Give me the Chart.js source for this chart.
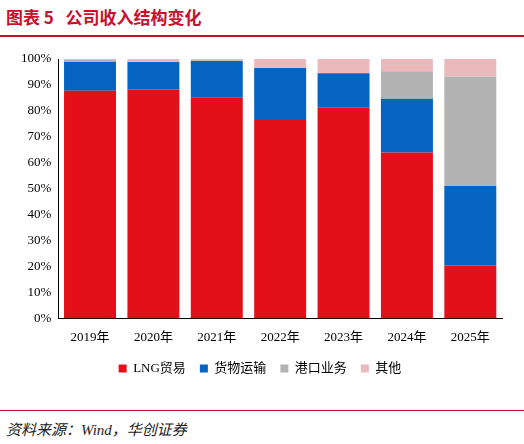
<!DOCTYPE html>
<html><head><meta charset="utf-8">
<script src="https://cdn.jsdelivr.net/npm/chart.js@4"></script>
<style>
body{margin:0;width:524px;height:444px;background:#fff;position:relative;overflow:hidden;font-family:"Noto Sans CJK SC",sans-serif}
#title{position:absolute;left:6px;top:4px;color:#c8102e;font-weight:bold;font-size:17px;font-family:"Noto Sans CJK SC"}
#tline{position:absolute;left:0;top:35px;width:524px;height:2px;background:#c8102e}
#bline{position:absolute;left:0;top:410px;width:524px;height:1px;background:#c8102e}
#src{position:absolute;left:6px;top:418px;font-size:15px;font-style:italic;color:#222;font-family:"Liberation Serif","Noto Sans CJK SC"}
#wrap{position:absolute;left:0;top:48px;width:524px;height:337px}
</style></head><body>
<div id="title">图表 5&nbsp;&nbsp;&nbsp;公司收入结构变化</div>
<div id="tline"></div>
<div id="wrap"><canvas id="c"></canvas></div>
<div id="bline"></div>
<div id="src">资料来源：Wind，华创证券</div>
<script>
const years = ["2019年","2020年","2021年","2022年","2023年","2024年","2025年"];
const lng = [87.8,88.2,85.1,76.5,81.2,64.0,20.4];
const cargo = [11.0,10.6,14.1,20.0,13.3,20.7,30.6];
const port = [0.8,0,0.3,0,0,10.6,42.3];
const other = [0.4,1.2,0.5,3.5,5.5,4.7,6.7];

const serif = "'Liberation Serif','Noto Sans CJK SC'";
new Chart(document.getElementById("c"), {
  type: "bar",
  data: {
    labels: years,
    datasets: [
      { label: "LNG贸易", data: lng, backgroundColor: "#e3101a" },
      { label: "货物运输", data: cargo, backgroundColor: "#0563c1" },
      { label: "港口业务", data: port, backgroundColor: "#b3b3b3" },
      { label: "其他", data: other, backgroundColor: "#ebb9bb" }
    ]
  },
  options: {
    responsive: true, maintainAspectRatio: false, animation: false,
    layout: { padding: { left: 18, right: 22, top: 11 } },
    datasets: { bar: { barPercentage: 0.82, categoryPercentage: 1 } },
    plugins: {
      tooltip: { enabled: false },
      legend: {
        position: "bottom",
        labels: { boxWidth: 8, boxHeight: 8, color: "#000", padding: 14,
          font: { size: 13, family: serif } }
      }
    },
    scales: {
      x: { stacked: true, grid: { display: false, drawTicks: true },
        border: { color: "#000" },
        ticks: { color: "#000", font: { size: 13, family: serif } } },
      y: { stacked: true, min: 0, max: 100,
        grid: { display: false, drawTicks: true, tickLength: 4 },
        border: { color: "#000" },
        ticks: { stepSize: 10, color: "#000", font: { size: 13, family: serif },
          callback: v => v + "%" } }
    }
  }
});
</script>
</body></html>
